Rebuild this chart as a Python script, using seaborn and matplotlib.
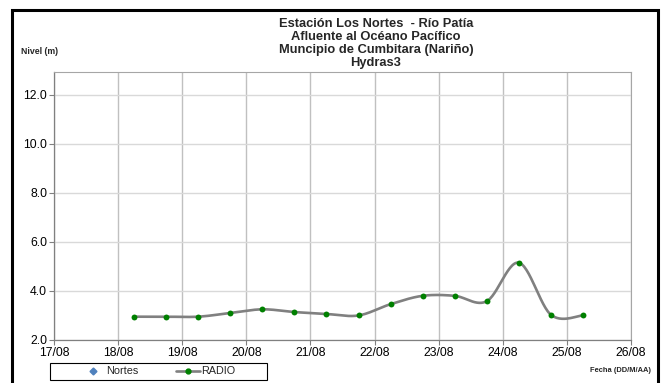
import numpy as np
import pandas as pd
import matplotlib
matplotlib.use('Agg')
import matplotlib.pyplot as plt
import seaborn as sns
from matplotlib.lines import Line2D
from matplotlib.patches import Rectangle

# dia de agosto (con fraccion del dia) y nivel leido
dias = [18.25, 18.75, 19.25, 19.75, 20.25, 20.75, 21.25, 21.75,
        22.25, 22.75, 23.25, 23.75, 24.25, 24.75, 25.25]
nivel_radio = [2.95, 2.95, 2.95, 3.10, 3.25, 3.14, 3.06, 3.00,
               3.46, 3.80, 3.80, 3.58, 5.15, 3.03, 3.00]

x_ticks = [17, 18, 19, 20, 21, 22, 23, 24, 25, 26]
x_labels = ['17/08', '18/08', '19/08', '20/08', '21/08', '22/08',
            '23/08', '24/08', '25/08', '26/08']
y_ticks = [2.0, 4.0, 6.0, 8.0, 10.0, 12.0]

titulo = ('Estación Los Nortes  - Río Patía\n'
          'Afluente al Océano Pacífico\n'
          'Muncipio de Cumbitara (Nariño)\n'
          'Hydras3')


def excel_smooth(x, y, n=30):
    # curva suavizada tipo Excel (bezier con tangentes de Catmull-Rom)
    p = np.column_stack([x, y]).astype(float)
    p = np.vstack([p[0], p, p[-1]])
    out = []
    t = np.linspace(0, 1, n)[:, None]
    for i in range(1, len(p) - 2):
        p0, p1, p2, p3 = p[i - 1], p[i], p[i + 1], p[i + 2]
        c1 = p1 + (p2 - p0) / 6
        c2 = p2 - (p3 - p1) / 6
        seg = ((1 - t) ** 3) * p1 + 3 * ((1 - t) ** 2) * t * c1 \
            + 3 * (1 - t) * t ** 2 * c2 + t ** 3 * p2
        out.append(seg if i == 1 else seg[1:])
    return np.vstack(out)


sns.set_theme(style='white')
plt.rcParams['font.family'] = ['Liberation Sans', 'DejaVu Sans']

fig = plt.figure(figsize=(6.63, 3.83), dpi=100)
W, H = 663, 383
ax = fig.add_axes([54 / W, 1 - 340 / H, (631 - 54) / W, (340 - 72) / H])

curva = excel_smooth(dias, nivel_radio)
df_curva = pd.DataFrame({'x': curva[:, 0], 'y': curva[:, 1]})
df_pts = pd.DataFrame({'x': dias, 'y': nivel_radio})

sns.lineplot(data=df_curva, x='x', y='y', ax=ax, color='#808080',
             linewidth=1.9, sort=False, estimator=None, zorder=3)
sns.scatterplot(data=df_pts, x='x', y='y', ax=ax, color='#008000',
                s=18, linewidth=0, zorder=4)

ax.set_xlim(17, 26)
ax.set_ylim(2, 12.92)
ax.set_xticks(x_ticks)
ax.set_xticklabels(x_labels)
ax.set_yticks(y_ticks)
ax.set_yticklabels([f'{v:.1f}' for v in y_ticks])
ax.set_xlabel('')
ax.set_ylabel('')

for xv in x_ticks:
    ax.axvline(xv, color='#c0c0c0', linewidth=1.0, zorder=1)
for yv in y_ticks:
    ax.axhline(yv, color='#d9d9d9', linewidth=1.0, zorder=1)

for side in ['top', 'right']:
    ax.spines[side].set_color('#a6a6a6')
    ax.spines[side].set_linewidth(0.8)
for side in ['left', 'bottom']:
    ax.spines[side].set_color('#808080')
    ax.spines[side].set_linewidth(0.9)

ax.tick_params(axis='both', direction='out', length=3.5, width=0.8,
               color='#808080', labelsize=8.8, pad=1.5, labelcolor='black',
               bottom=True, left=True)

fig.text(376 / W, 1 - 18 / H, titulo, ha='center', va='top',
         fontsize=9.3, fontweight='bold', linespacing=1.1)
fig.text(21 / W, 1 - 51 / H, 'Nivel (m)', ha='left', va='center',
         fontsize=6.3, fontweight='bold')
fig.text(651 / W, 1 - 370 / H, 'Fecha (DD/M/AA)', ha='right',
         va='center', fontsize=5.4, fontweight='bold')

handles = [
    Line2D([], [], color='none', marker='D', markersize=3.5,
           markerfacecolor='#4f81bd', markeredgecolor='#4f81bd'),
    Line2D([], [], color='#808080', linewidth=1.9, marker='o',
           markersize=3.5, markerfacecolor='#008000',
           markeredgecolor='#008000'),
]
leg = fig.legend(handles, ['Nortes', 'RADIO'], ncol=2,
                 loc='center', bbox_to_anchor=(158 / W, 1 - 371.5 / H),
                 fontsize=7.8, frameon=False,
                 borderpad=0.15, handlelength=2.2, handletextpad=0.1,
                 columnspacing=3.5)
fig.patches.append(Rectangle((50 / W, 1 - 380 / H), (267 - 50) / W,
                             (380 - 363) / H, transform=fig.transFigure,
                             fill=False, edgecolor='black', linewidth=0.8))

fig.patches.append(Rectangle((12 / W, -0.05), (658 - 12) / W, 1.05 - 10 / H,
                             transform=fig.transFigure, fill=False,
                             edgecolor='black', linewidth=2.2))

fig.savefig('out.png', dpi=100)
